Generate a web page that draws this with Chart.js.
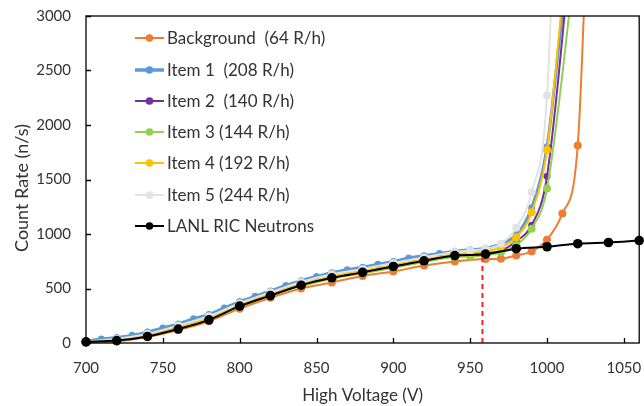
<!DOCTYPE html>
<html><head><meta charset="utf-8">
<script src="https://cdn.jsdelivr.net/npm/chart.js@4/dist/chart.umd.min.js"></script>
<style>html,body{margin:0;padding:0;background:#fff}#wrap{width:644px;height:406px}</style>
</head><body><div id="wrap"><canvas id="c" width="644" height="406"></canvas></div>
<script>
// ---- tick labels ----
const xTicks = [700, 750, 800, 850, 900, 950, 1000, 1050];
const yTicks = [0, 500, 1000, 1500, 2000, 2500, 3000];

// ---- series names ----
const seriesNames = ["Background  (64 R/h)", "Item 1  (208 R/h)", "Item 2  (140 R/h)", "Item 3 (144 R/h)", "Item 4 (192 R/h)", "Item 5 (244 R/h)", "LANL RIC Neutrons"];
const xTitle = "High Voltage (V)";
const yTitle = "Count Rate (n/s)";

// ---- Background ----
const bgVolts = [700,720,740,760,780,800,820,840,860,880,900,920,940,960,970,980,990,1000,1010,1020,1030];
const bgRate  = [5,15,55,120,200,315,415,500,555,615,656,711,748,770,773,803,840,948,1187,1812,5500];

// ---- Item 1 ----
const item1Volts = [700,710,720,730,740,750,760,770,780,790,800,810,820,830,840,850,860,870,880,890,900,910,920,930,940,950,960,970,980,990,1000,1010];
const item1Rate  = [15,37,50,70,100,138,175,222,262,322,380,428,478,528,572,610,645,672,695,722,748,780,800,822,842,855,870,910,995,1240,1800,3030];

// ---- Item 2 ----
const item2Volts = [700,720,740,760,780,800,820,840,860,880,900,920,940,950,960,970,980,990,1000,1020];
const item2Rate  = [10,28,70,140,222,342,442,535,603,652,705,758,805,815,825,845,935,1080,1530,4300];

// ---- Item 3 ----
const item3Volts = [700,720,740,760,780,800,820,840,860,880,900,920,940,950,960,970,980,990,1000,1020];
const item3Rate  = [8,22,62,130,212,332,432,522,590,640,690,742,790,794,805,831,900,1049,1417,3700];

// ---- Item 4 ----
const item4Volts = [700,720,740,760,780,800,820,840,860,880,900,920,940,950,960,970,980,990,1000,1010];
const item4Rate  = [10,30,75,145,228,350,450,542,612,662,715,768,815,828,840,880,970,1199,1770,3150];

// ---- Item 5 ----
const item5Volts = [700,720,740,760,780,800,820,840,860,880,900,920,940,950,960,970,980,990,1000,1010];
const item5Rate  = [12,38,85,160,245,365,465,560,630,680,735,785,835,849,865,911,1058,1383,2270,6000];

// ---- LANL RIC Neutrons ----
const lanlVolts = [700,720,740,760,780,800,820,840,860,880,900,920,940,960,980,1000,1020,1040,1060];
const lanlRate  = [10,22,60,128,212,338,435,530,598,648,702,754,802,815,865,883,911,922,940];

// ---- reference marker (dashed) ----
const markerVolts = [958, 958];
const markerRate  = [0, 815];

const colors = ["#ED7D31", "#5B9BD5", "#7030A0", "#92D050", "#FFC000", "#E2E2E2", "#000000"];
const widths = [2, 3, 2, 2, 2, 2, 2];
const radii  = [4, 3.5, 3.5, 4, 4, 4, 4.8];
const voltsList = [bgVolts, item1Volts, item2Volts, item3Volts, item4Volts, item5Volts, lanlVolts];
const rateList  = [bgRate, item1Rate, item2Rate, item3Rate, item4Rate, item5Rate, lanlRate];

const pts = (xs, ys) => xs.map((v, i) => ({x: v, y: ys[i]}));

const datasets = seriesNames.map((name, i) => ({
  label: name,
  data: pts(voltsList[i], rateList[i]),
  borderColor: colors[i],
  backgroundColor: colors[i],
  borderWidth: widths[i],
  pointRadius: radii[i],
  pointBorderWidth: 0,
  pointHoverRadius: radii[i],
  tension: 0.4,
  cubicInterpolationMode: 'monotone',
  clip: {left: 6, right: 6, top: 0, bottom: 6},
  order: 10 - i
}));
datasets.push({
  label: 'marker',
  data: pts(markerVolts, markerRate),
  borderColor: '#FF2020',
  borderWidth: 2,
  borderDash: [5, 4],
  pointRadius: 0,
  tension: 0,
  order: 0
});

const FONT = 'Lato';
const TXT = '#333333';

const framePlugin = {
  id: 'frame',
  afterDraw(chart) {
    const {ctx, chartArea: a, scales: {x, y}} = chart;
    ctx.save();
    ctx.strokeStyle = '#000';
    ctx.lineWidth = 1.3;
    ctx.strokeRect(a.left, a.top, a.right - a.left, a.bottom - a.top);
    ctx.beginPath();
    xTicks.forEach(v => { const p = Math.round(x.getPixelForValue(v)) + 0.5; ctx.moveTo(p, a.bottom); ctx.lineTo(p, a.bottom - 5); });
    yTicks.forEach(v => { const p = Math.round(y.getPixelForValue(v)) + 0.5; ctx.moveTo(a.left, p); ctx.lineTo(a.left + 5, p); });
    ctx.stroke();
    // y axis title
    ctx.save();
    ctx.translate(22, 188);
    ctx.rotate(-Math.PI / 2);
    ctx.font = '18px ' + FONT;
    ctx.fillStyle = TXT;
    ctx.textAlign = 'center';
    ctx.textBaseline = 'middle';
    ctx.fillText(yTitle, 0, 0);
    ctx.restore();
    ctx.restore();
  }
};

const legendPlugin = {
  id: 'customLegend',
  afterDraw(chart) {
    const ctx = chart.ctx;
    const rowY = [38, 70, 101, 132, 163, 195, 226];
    ctx.save();
    ctx.font = '17px ' + FONT;
    ctx.textBaseline = 'middle';
    ctx.textAlign = 'left';
    seriesNames.forEach((name, i) => {
      const yy = rowY[i];
      ctx.strokeStyle = colors[i];
      ctx.lineWidth = i === 1 ? 3.5 : 2;
      ctx.beginPath(); ctx.moveTo(135, yy); ctx.lineTo(164, yy); ctx.stroke();
      ctx.fillStyle = colors[i];
      ctx.beginPath(); ctx.arc(149.5, yy, 3.8, 0, Math.PI * 2); ctx.fill();
      ctx.fillStyle = TXT;
      ctx.fillText(name, 167, yy + 1);
    });
    ctx.restore();
  }
};

new Chart(document.getElementById('c'), {
  type: 'line',
  data: {datasets},
  options: {
    responsive: false,
    animation: false,
    layout: {padding: {left: 0, right: 3, top: 16, bottom: 0}},
    plugins: {legend: {display: false}, tooltip: {enabled: false}},
    scales: {
      x: {
        type: 'linear', min: 700, max: 1060,
        afterBuildTicks: s => { s.ticks = xTicks.map(v => ({value: v})); },
        afterFit: s => { s.height = 63; s.paddingLeft = 0; s.paddingRight = 0; },
        grid: {display: false, drawTicks: false},
        border: {display: false},
        ticks: {font: {family: FONT, size: 15}, color: TXT, padding: 16, maxRotation: 0, callback: v => String(v)},
        title: {display: true, text: xTitle, font: {family: FONT, size: 17}, color: TXT, padding: {top: 4, bottom: 0}}
      },
      y: {
        type: 'linear', min: 0, max: 3000,
        afterBuildTicks: s => { s.ticks = yTicks.map(v => ({value: v})); },
        afterFit: s => { s.width = 86; s.paddingTop = 0; s.paddingBottom = 0; },
        grid: {display: false, drawTicks: false},
        border: {display: false},
        ticks: {font: {family: FONT, size: 15}, color: TXT, padding: 15, callback: v => String(v)},
        title: {display: false}
      }
    }
  },
  plugins: [framePlugin, legendPlugin]
});
</script></body></html>
